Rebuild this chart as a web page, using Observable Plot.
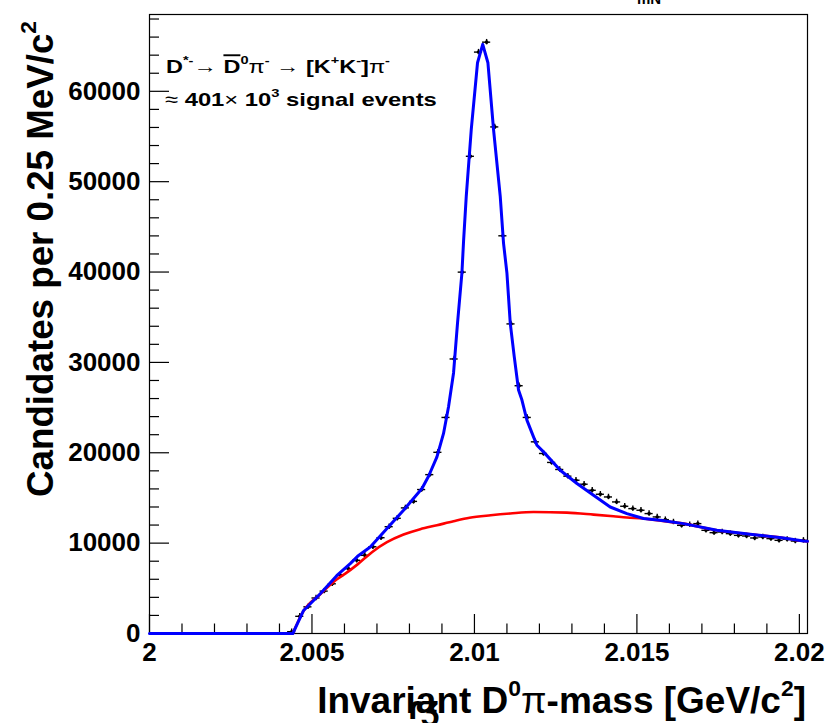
<!DOCTYPE html>
<html><head><meta charset="utf-8">
<script src="https://cdn.jsdelivr.net/npm/d3@7"></script>
<script src="https://cdn.jsdelivr.net/npm/@observablehq/plot@0.6"></script>
<style>body{margin:0;background:#fff}</style>
</head><body><div id="chart"></div>
<script>
// Histogram bin centres (GeV/c^2) and candidate counts
const binMass = [2.004375,2.004625,2.004875,2.005125,2.005375,2.005625,2.005875,2.006125,2.006375,2.006625,
2.006875,2.007125,2.007375,2.007625,2.007875,2.008125,2.008375,2.008625,2.008875,2.009125,
2.009375,2.009625,2.009875,2.010125,2.010375,2.010625,2.010875,2.011125,2.011375,2.011625,
2.011875,2.012125,2.012375,2.012625,2.012875,2.013125,2.013375,2.013625,2.013875,2.014125,
2.014375,2.014625,2.014875,2.015125,2.015375,2.015625,2.015875,2.016125,2.016375,2.016625,
2.016875,2.017125,2.017375,2.017625,2.017875,2.018125,2.018375,2.018625,2.018875,2.019125,
2.019375,2.019625,2.019875,2.020125];
const binCounts = [200,1900,2950,3930,4690,5500,6430,7170,8100,8650,
9600,10600,11820,12750,13900,14620,15930,17580,20050,23910,
30380,39990,52810,64340,65440,56060,44010,34260,27420,23910,
21210,19920,18930,18150,17410,16960,16520,15850,15410,15110,
14560,14080,13820,13640,13270,12900,12600,12340,11970,12050,
12160,11420,11160,11230,11050,10860,10790,10570,10680,10500,
10310,10420,10230,10310];
const binHalfWidth = 0.000125;
const binError = 300;

// Total fit (blue)
const fitMass = [2.0,2.00441,2.004742,2.005255,2.005769,2.006178,2.006403,2.006794,2.007308,2.007818,
2.008385,2.008588,2.008846,2.009049,2.009203,2.009357,2.00948,2.009615,2.009665,2.009748,
2.009902,2.010095,2.010255,2.010415,2.010588,2.010794,2.010895,2.011,2.011102,2.011225,
2.011357,2.011462,2.011615,2.011818,2.011923,2.012126,2.01264,2.013154,2.013665,2.014178,
2.014692,2.015203,2.015717,2.016434,2.017462,2.018486,2.019511,2.020126,2.02025];
const fitTotal = [0,0,2550,4400,6430,7730,8540,9570,11610,13640,
16040,17400,19550,22140,25090,28830,34370,39910,43400,48370,
55760,63160,65200,63160,55760,48370,43200,39880,34340,30640,
26940,25830,23610,21760,20840,20100,18070,16600,15300,14000,
13270,12720,12530,12160,11420,10980,10570,10230,10200];

// Background (red)
const bkgMass = [2.00441,2.004742,2.005255,2.005769,2.006025,2.006403,2.006846,2.007308,2.007818,2.008332,
2.008846,2.009357,2.00985,2.010500,2.011102,2.011818,2.012846,2.013665,2.01428,2.014692,2.015203,
2.015615,2.016434,2.017462,2.018486,2.019511,2.020126,2.02025];
const bkgValues = [0,2500,4350,6000,6620,7650,9000,10100,10950,11550,
11980,12420,12800,13080,13280,13450,13380,13160,12970,12830,12720,
12530,12160,11420,10980,10570,10230,10200];

const xMajorTicks = [2, 2.005, 2.01, 2.015, 2.02];
const xTickLabels = ["2", "2.005", "2.01", "2.015", "2.02"];
const xMinorTicks = [2.001,2.002,2.003,2.004,2.006,2.007,2.008,2.009,2.011,2.012,2.013,2.014,2.016,2.017,2.018,2.019];
const yMajorTicks = [0,10000,20000,30000,40000,50000,60000];
const yTickLabels = ["0","10000","20000","30000","40000","50000","60000"];
const yMinorTicks = [2000,4000,6000,8000,12000,14000,16000,18000,22000,24000,26000,28000,32000,34000,36000,38000,
42000,44000,46000,48000,52000,54000,56000,58000,62000,64000,66000,68000];

const W = 826, H = 723, mL = 149, mR = 19, mT = 14, mB = 90;
const xDom = [2, 2.02025], yDom = [0, 68500];
const xPerPx = (xDom[1]-xDom[0])/(W-mL-mR);
const yPerPx = (yDom[1]-yDom[0])/(H-mT-mB);

const points = binMass.map((m,i)=>({m, v: binCounts[i]}));
const fit = fitMass.map((m,i)=>({m, v: fitTotal[i]}));
const bkg = bkgMass.map((m,i)=>({m, v: bkgValues[i]}));

const font = "'Liberation Sans', Arial, Helvetica, sans-serif";

const plot = Plot.plot({
  width: W, height: H, marginLeft: mL, marginRight: mR, marginTop: mT, marginBottom: mB,
  x: {domain: xDom}, y: {domain: yDom},
  style: {fontFamily: font, background: "white", color: "black"},
  marks: [
    Plot.frame({stroke: "black", strokeWidth: 1.2}),
    Plot.ruleX(xMajorTicks, {x: d=>d, y1: 0, y2: 19*yPerPx, stroke: "black", strokeWidth: 1.2}),
    Plot.ruleX(xMinorTicks, {x: d=>d, y1: 0, y2: 9.5*yPerPx, stroke: "black", strokeWidth: 1.2}),
    Plot.ruleY(yMajorTicks, {y: d=>d, x1: xDom[0], x2: xDom[0]+20*xPerPx, stroke: "black", strokeWidth: 1.2}),
    Plot.ruleY(yMinorTicks, {y: d=>d, x1: xDom[0], x2: xDom[0]+10*xPerPx, stroke: "black", strokeWidth: 1.2}),
    Plot.axisX({ticks: xMajorTicks, tickSize: 0, tickPadding: 9, label: null,
      tickFormat: d => xTickLabels[xMajorTicks.indexOf(d)], fontSize: 26, fontWeight: "bold"}),
    Plot.axisY({ticks: yMajorTicks, tickSize: 0, tickPadding: 9, label: null,
      tickFormat: d => yTickLabels[yMajorTicks.indexOf(d)], fontSize: 26, fontWeight: "bold"}),
    Plot.ruleY(points, {y: "v", x1: d=>d.m-binHalfWidth, x2: d=>d.m+binHalfWidth, stroke: "black", strokeWidth: 1.4}),
    Plot.ruleX(points, {x: "m", y1: d=>d.v-binError, y2: d=>d.v+binError, stroke: "black", strokeWidth: 1.4}),
    Plot.dot(points, {x: "m", y: "v", r: 1.8, fill: "black"}),
    Plot.line(bkg, {x: "m", y: "v", stroke: "#ff0000", strokeWidth: 2.6, curve: "monotone-x"}),
    Plot.line(fit, {x: "m", y: "v", stroke: "#0000ff", strokeWidth: 3})
  ]
});
document.getElementById("chart").append(plot);

const svg = d3.select(plot);
function addRuns(text, runs) {
  let prevSup = false;
  runs.forEach(r => {
    const ts = text.append("tspan").text(r.t);
    if (r.sup) {
      ts.attr("font-size", "62%");
      if (!prevSup) ts.attr("dy", "-0.75em");
    } else if (prevSup) {
      ts.attr("dy", "0.465em");
    }
    if (r.normal) ts.attr("font-weight", "normal");
    if (r.over) ts.style("text-decoration", "overline");
    prevSup = !!r.sup;
  });
}
function placeText(x, y, runs, opts) {
  const g = svg.append("g");
  const t = g.append("text").attr("font-family", font).attr("font-weight", "bold")
    .attr("font-size", opts.size).attr("fill", "black").attr("text-anchor", opts.anchor || "start");
  addRuns(t, runs);
  let sc = "";
  if (opts.width) {
    const w = t.node().getComputedTextLength();
    const s = opts.width / w;
    sc = opts.stretch ? `scale(${s},1)` : `scale(${s})`;
  }
  g.attr("transform", `translate(${x},${y})${opts.rotate ? " rotate(-90)" : ""} ${sc}`);
}

// Axis titles
placeText(53, 21, [{t:"Candidates per 0.25 MeV/c"},{t:"2",sup:true}], {size: 36, width: 476, anchor: "end", rotate: true});
placeText(806, 713, [{t:"Invariant D"},{t:"0",sup:true},{t:"π",normal:true},{t:"-mass [GeV/c"},{t:"2",sup:true},{t:"]"}], {size: 36, width: 489, anchor: "end"});

// Annotation
placeText(166, 73, [{t:"D"},{t:"*-",sup:true},{t:"→ ",normal:true},{t:"D",over:true},{t:"0",sup:true},{t:"π",normal:true},{t:"-",sup:true},
  {t:" → ",normal:true},{t:"[K"},{t:"+",sup:true},{t:"K"},{t:"-",sup:true},{t:"]"},{t:"π",normal:true},{t:"-",sup:true}],
  {size: 19, width: 224, stretch: true});
placeText(165, 106, [{t:"≈ ",normal:true},{t:"401"},{t:"× ",normal:true},{t:"10"},{t:"3",sup:true},{t:" signal events"}],
  {size: 19, width: 272, stretch: true});

// Cut-off text fragments visible at the edges of the reference
placeText(637, 4, [{t:"mN"}], {size: 15});
placeText(408, 719, [{t:"ɾʒ"}], {size: 34});
</script>
</body></html>
